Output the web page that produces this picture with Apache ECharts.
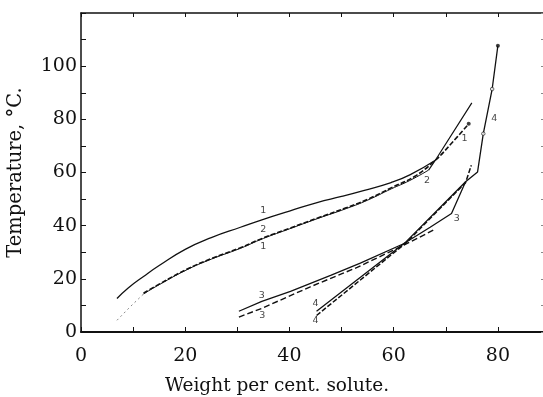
<!DOCTYPE html>
<html>
<head>
<meta charset="utf-8">
<script src="https://cdn.jsdelivr.net/npm/echarts@6/dist/echarts.min.js"></script>
<style>html,body{margin:0;padding:0;background:#fff;}#c{width:543px;height:397px;}</style>
</head>
<body>
<div id="c"></div>
<script>
// ---- data (weight % solute, temperature °C) ----
const xTickLabels = [0, 20, 40, 60, 80];
const yTickLabels = [0, 20, 40, 60, 80, 100];

const curve1Solid = [[6.9,12.6],[9,16.5],[12,20.9],[15,25],[20,31.1],[25,35.5],[30.6,39.4],[35,42.4],[40,45.5],[45.3,48.7],[50,51],[54.2,53.2],[59.5,56.2],[63.2,59.2],[68,64.6]];
const curve1Dashed = [[12,14.6],[15,18.0],[20.3,23.6],[25,27.6],[30.6,31.7],[35,35.4],[40,39.0],[45.3,42.8],[51,46.8],[55,49.9],[59.6,54.3],[64,58.5],[68,64.6],[71.2,71.2],[74.4,78.3]];
const curve2Solid = [[12,14.3],[15,17.8],[20.3,23.4],[25,27.4],[30.6,31.5],[35,35.2],[40,38.8],[45.3,42.6],[51,46.5],[55,49.6],[59.6,53.9],[63,56.9],[66.7,60.9]];
const curve2Upper = [[66.7,60.9],[68,64.6],[75,86.2]];
const curve2Dotted = [[6.9,4.4],[9.5,9.6],[12,14.3]];
const curve3Solid = [[30.3,7.8],[34.7,11.5],[40.2,15.3],[47.9,21.3],[53.6,25.9],[61.9,33.2],[67,39.4],[71.1,44.6],[73.8,56.5]];
const curve3Dashed = [[30.3,5.6],[34.7,8.9],[44,17],[53,24.3],[61.9,32.6],[67.6,38.3]];
const curve4Solid = [[45.2,7.8],[62.3,33.8],[73.8,56.5],[76.1,60.2],[77.2,74.6],[78.9,91.4],[80,107.7]];
const curve4Dashed = [[45.2,6.2],[62.3,33.4],[73.8,56.2],[74.9,62.7]];

const filledDots = [[80,107.7],[74.4,78.3]];
const openDots = [[77.2,74.6],[78.9,91.4]];

const curveLabels = [
  ['1',35,45.8],['2',35,38.6],['1',35,32.0],['2',66.4,57.0],['1',73.6,72.7],
  ['4',79.3,80.2],['3',72.1,42.8],['3',34.7,13.8],['3',34.8,6.2],['4',45,10.6],['4',45,4.4]
];

// ---- chart ----
const serif = 'DejaVu Serif';
const ink = '#111';
function line(data, type, width, smooth, color) {
  return {
    type: 'line', data: data, showSymbol: false, smooth: smooth,
    lineStyle: { color: color || ink, width: width, type: type },
    silent: true, z: 3
  };
}
const chart = echarts.init(document.getElementById('c'), null, { renderer: 'canvas' });
chart.setOption({
  backgroundColor: '#fff',
  animation: false,
  title: {
    text: 'Weight per cent. solute.', left: 160, top: 372,
    textStyle: { fontFamily: serif, fontSize: 18.5, fontWeight: 'normal', color: ink }
  },
  grid: { left: 81, top: 13, right: -7, bottom: 65, containLabel: false, outerBoundsMode: 'none' },
  xAxis: [{
    type: 'value', min: 0, max: 90, interval: 10, position: 'bottom',
    axisLine: { show: true, onZero: false, lineStyle: { color: ink, width: 2 } },
    axisTick: { show: true, inside: true, length: 5, lineStyle: { color: ink, width: 1 } },
    axisLabel: { fontFamily: serif, fontSize: 19, color: ink, margin: 15,
      formatter: v => xTickLabels.indexOf(v) >= 0 ? String(v) : '' },
    splitLine: { show: false }
  }, {
    type: 'value', min: 0, max: 90, interval: 10, position: 'top',
    axisLine: { show: true, onZero: false, lineStyle: { color: ink, width: 1.5 } },
    axisTick: { show: true, inside: true, length: 4, lineStyle: { color: ink, width: 1 } },
    axisLabel: { show: false }, splitLine: { show: false }
  }],
  yAxis: [{
    type: 'value', min: 0, max: 120, interval: 10, position: 'left',
    name: 'Temperature, °C.', nameLocation: 'middle', nameGap: 55, nameRotate: 90,
    nameTextStyle: { fontFamily: serif, fontSize: 19.5, color: ink },
    axisLine: { show: true, onZero: false, lineStyle: { color: ink, width: 1.5 } },
    axisTick: { show: true, inside: true, length: 5, lineStyle: { color: ink, width: 1 } },
    axisLabel: { fontFamily: serif, fontSize: 19, color: ink, margin: 4,
      formatter: v => yTickLabels.indexOf(v) >= 0 ? String(v) : '' },
    splitLine: { show: false }
  }, {
    type: 'value', min: 0, max: 120, interval: 10, position: 'right',
    axisLine: { show: true, onZero: false, lineStyle: { color: ink, width: 1 } },
    axisTick: { show: true, inside: true, length: 9, lineStyle: { color: '#888', width: 1 } },
    axisLabel: { show: false }, splitLine: { show: false }
  }],
  series: [
    line(curve1Solid, 'solid', 1.3, 0.5),
    line(curve1Dashed, [5, 2], 1.6, 0.4),
    line(curve2Solid, 'solid', 1, 0.5),
    line(curve2Upper, 'solid', 1.2, false),
    line(curve2Dotted, [2, 3], 1, false, '#888'),
    line(curve3Solid, 'solid', 1.3, false),
    line(curve3Dashed, [6, 3], 1.4, false),
    line(curve4Solid, 'solid', 1.3, false),
    line(curve4Dashed, [5, 2], 1.5, false),
    { type: 'scatter', data: filledDots, symbol: 'circle', symbolSize: 4,
      itemStyle: { color: ink }, z: 4, silent: true },
    { type: 'scatter', data: openDots, symbol: 'circle', symbolSize: 3.5,
      itemStyle: { color: '#fff', borderColor: ink, borderWidth: 0.8 }, z: 4, silent: true },
    { type: 'scatter', data: curveLabels.map(d => ({ value: [d[1], d[2]], name: d[0] })),
      symbolSize: 0, silent: true, z: 5,
      label: { show: true, position: 'inside', formatter: p => p.name,
        fontFamily: 'DejaVu Sans', fontSize: 9.5, color: ink } }
  ]
});
</script>
</body>
</html>
